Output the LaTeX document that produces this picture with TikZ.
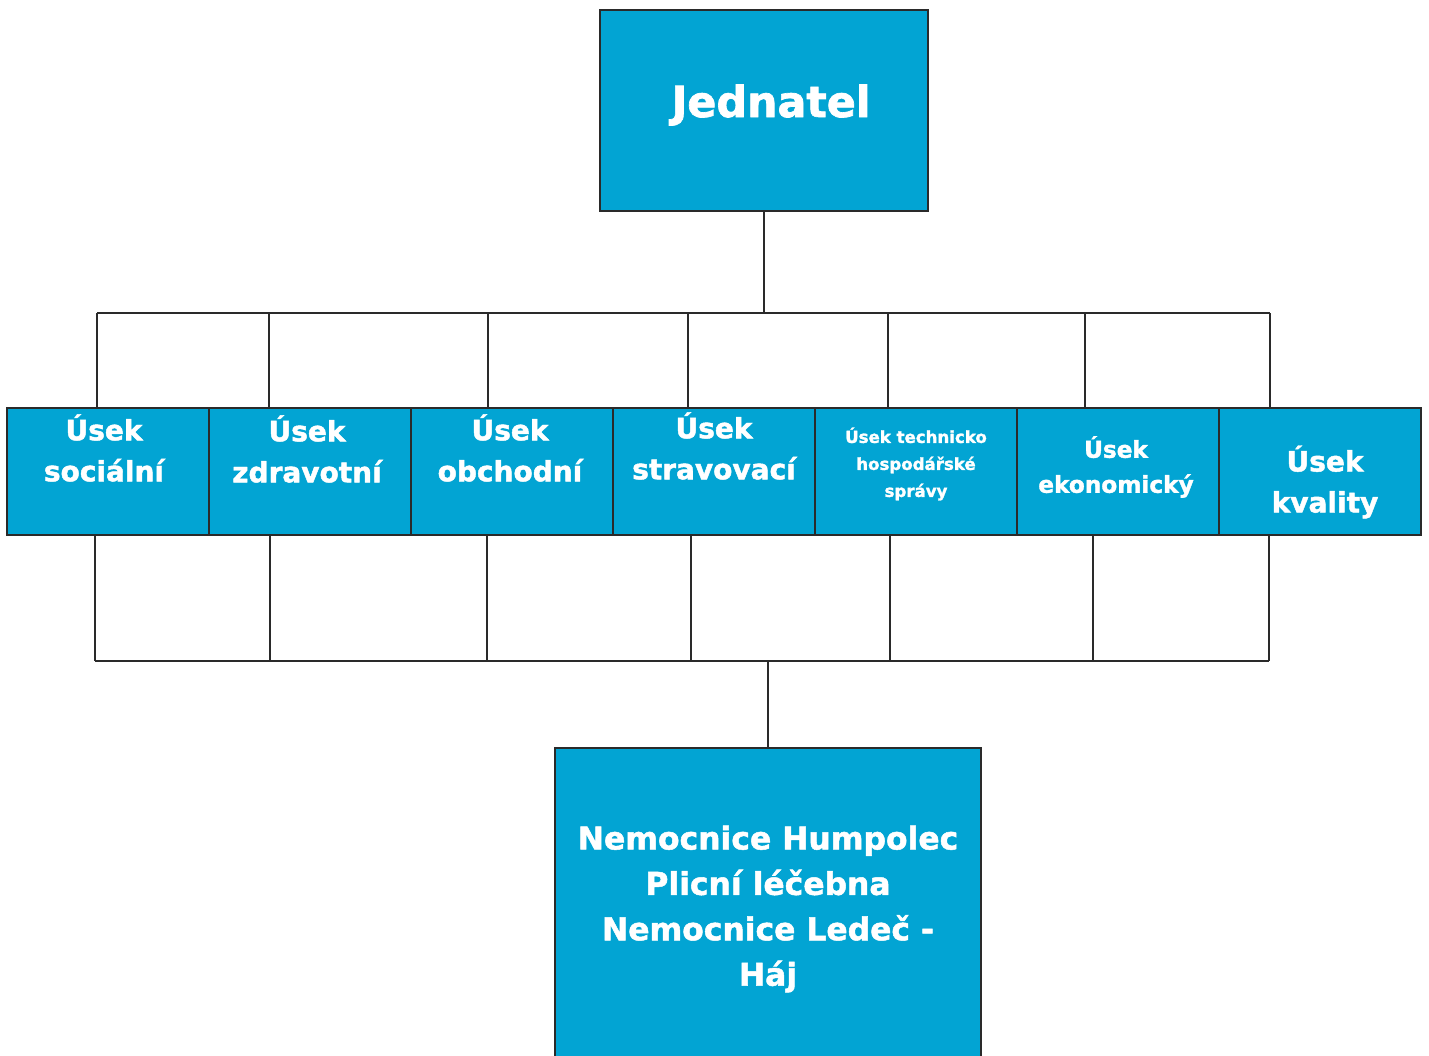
\documentclass[tikz,border=0pt]{standalone}
\usepackage{fontspec}
\setmainfont{DejaVu Sans}[BoldFeatures={FakeBold=1.6}]
\usetikzlibrary{positioning}

\definecolor{usekblue}{HTML}{02A4D3}
\definecolor{linegray}{HTML}{2A2A2A}

\begin{document}
\begin{tikzpicture}[x=0.5pt,y=-0.5pt,
   box/.style={draw=linegray, line width=0.8pt, fill=usekblue, inner sep=0pt},
   usek/.style={box, minimum width=101pt, minimum height=63.5pt},
   lbl/.style={text=white, inner sep=0pt, align=center, font=\bfseries\fontsize{14}{20.5}\selectfont},
   conn/.style={draw=linegray, line width=0.7pt}
]
\useasboundingbox (0,0) rectangle (1429,1055);

% jednatel
\node[box, minimum width=164pt, minimum height=100.5pt] (jed) at (764,110.5) {};
\node[lbl, anchor=base, font=\bfseries\fontsize{21.4}{25}\selectfont] (jedtext) at (771,117) {Jednatel};

% useky
\foreach \i/\x in {1/108,2/310,3/512,4/714,5/916,6/1118,7/1320}
   \node[usek] (u\i) at (\x,471.5) {};

\node[lbl] (l1) at (104,448) {Úsek\\sociální};
\node[lbl] (l2) at (307,449) {Úsek\\zdravotní};
\node[lbl] (l3) at (510,448) {Úsek\\obchodní};
\node[lbl] (l4) at (714,446) {Úsek\\stravovací};
\node[lbl, font=\bfseries\fontsize{8.3}{13.5}\selectfont] (l5) at (916,464) {Úsek technicko\\hospodářské\\správy};
\node[lbl, font=\bfseries\fontsize{11.6}{17.5}\selectfont] (l6) at (1116,467) {Úsek\\ekonomický};
\node[lbl] (l7) at (1325,482) {Úsek\\kvality};

% nemocnice
\node[box, minimum width=213pt, minimum height=156pt] (nem) at (768,904) {};
\node[lbl, font=\bfseries\fontsize{15.7}{22.7}\selectfont] (nemtext) at (768,909)
   {Nemocnice Humpolec\\Plicní léčebna\\Nemocnice Ledeč -\\Háj};

% spoje nahore
\foreach \i/\x in {1/97,2/269,3/488,4/688,5/888,6/1085,7/1270}
   \coordinate (a\i) at (\x,313);
\draw[conn] (jed.south) -- (jed.south |- a1);
\draw[conn] (a1) -- (a7);
\foreach \i in {1,...,7}
   \draw[conn] (a\i) -- (a\i |- u\i.north);

% spoje dole
\foreach \i/\x in {1/95,2/270,3/487,4/691,5/890,6/1093,7/1269}
   \coordinate (b\i) at (\x,661);
\draw[conn] (b1) -- (b7);
\foreach \i in {1,...,7}
   \draw[conn] (b\i |- u\i.south) -- (b\i);
\draw[conn] (nem.north |- b1) -- (nem.north);
\end{tikzpicture}
\end{document}
